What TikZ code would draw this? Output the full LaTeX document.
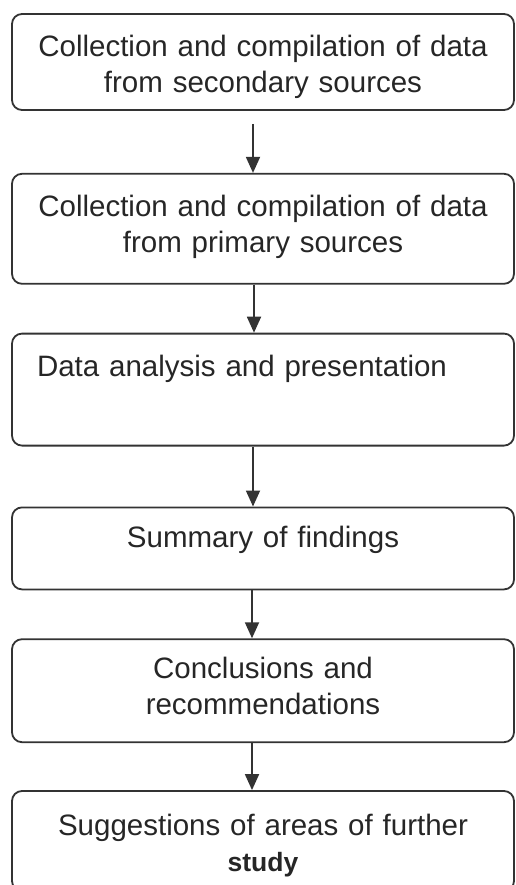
\documentclass[tikz,border=0pt]{standalone}
\usepackage{fontspec}
\setmainfont{Liberation Sans}
\usepackage{tikz}
\usetikzlibrary{positioning, arrows.meta}

\begin{document}
\begin{tikzpicture}[
    box/.style={rectangle, draw=black!80, line width=1.8pt, rounded corners=10pt, minimum width=502pt, text width=452pt, inner xsep=25pt, align=center, text height=21pt, text=black!85, font=\fontsize{29.5}{36}\selectfont},
    arrow/.style={-{Triangle[width=14pt, length=16pt]}, line width=1.8pt, color=black!80}
]

\useasboundingbox (0,0) rectangle (516pt,-885pt);

% Step 1: Secondary data
\node[box, minimum height=96pt, text depth=31pt] (secondary) at (263pt,-62pt) {
    Collection and compilation of data\\
    from secondary sources
};

% Step 2: Primary data
\node[box, minimum height=110pt, text depth=45pt, below=62pt of secondary] (primary) {
    Collection and compilation of data\\
    from primary sources
};

% Step 3: Analysis
\node[box, minimum height=112pt, align=left, text depth=47pt, below=48pt of primary] (analysis) {
    Data analysis and presentation
};

% Step 4: Findings
\node[box, minimum height=82pt, text depth=23pt, below=60pt of analysis] (summary) {
    Summary of findings
};

% Step 5: Conclusions
\node[box, minimum height=103pt, text depth=45pt, below=48pt of summary] (conclusions) {
    Conclusions and\\
    recommendations
};

% Step 6: Further study
\node[box, minimum height=100pt, text depth=32pt, below=47pt of conclusions] (further) {
    Suggestions of areas of further\\
    {\bfseries\fontsize{26.5}{36}\selectfont study}
};

% Arrows
\draw[arrow, shorten <=13pt] ([xshift=-10pt]secondary.south) -- ([xshift=-10pt]primary.north);
\draw[arrow] ([xshift=-9pt]primary.south) -- ([xshift=-9pt]analysis.north);
\draw[arrow] ([xshift=-10pt]analysis.south) -- ([xshift=-10pt]summary.north);
\draw[arrow] ([xshift=-11pt]summary.south) -- ([xshift=-11pt]conclusions.north);
\draw[arrow] ([xshift=-11pt]conclusions.south) -- ([xshift=-11pt]further.north);

\end{tikzpicture}
\end{document}
